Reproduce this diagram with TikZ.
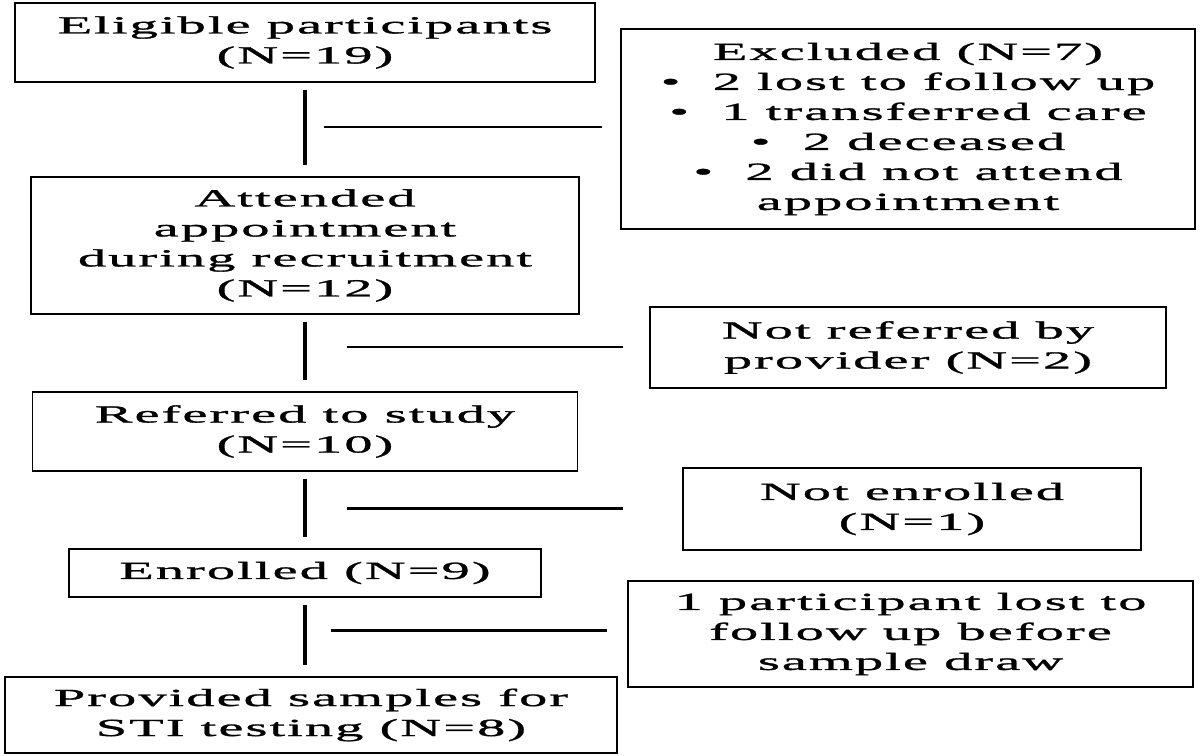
\documentclass[tikz,border=0pt]{standalone}
\usepackage{fontspec}
\setmainfont[FakeStretch=2.3,LetterSpace=8,FakeBold=1.2]{Liberation Serif}
\begin{document}
\begin{tikzpicture}[
    font=\fontsize{14pt}{17.07pt}\selectfont,
    flowbox/.style={
        draw,
        line width=1.1pt,
        align=center,
        inner sep=2pt
    },
    vline/.style={line width=2.6pt, shorten <=0.14cm, shorten >=0.22cm},
    hline/.style={line width=1.7pt}
]
\useasboundingbox (0,0) rectangle (24,-15.1);

% ---------------------------------------------------------------------------
% Main column
% ---------------------------------------------------------------------------
\node[flowbox, minimum width=11.6cm, minimum height=1.58cm] (elig) at (6.1,-0.85)
    {Eligible participants\\(N=19)};

\node[flowbox, minimum width=10.96cm, minimum height=2.74cm] (attend) at (6.1,-4.91)
    {Attended\\appointment\\during recruitment\\(N=12)};

\node[flowbox, minimum width=10.9cm, minimum height=1.58cm] (referred) at (6.1,-8.63)
    {Referred to study\\(N=10)};

\node[flowbox, minimum width=9.44cm, minimum height=0.96cm] (enrolled) at (6.1,-11.46)
    {Enrolled (N=9)};

\node[flowbox, minimum width=12.24cm, minimum height=1.52cm] (provided) at (6.22,-14.3)
    {Provided samples for\\STI testing (N=8)};

% ---------------------------------------------------------------------------
% Exclusions
% ---------------------------------------------------------------------------
\node[flowbox, minimum width=11.48cm, minimum height=4.0cm] (excl) at (18.16,-2.58)
    {Excluded (N=7)\\
    • ~2 lost to follow up\\
    • ~1 transferred care\\
    • ~2 deceased\\
    • ~2 did not attend\\
    appointment};

\node[flowbox, minimum width=10.32cm, minimum height=1.62cm] (notref) at (18.16,-6.95)
    {Not referred by\\provider (N=2)};

\node[flowbox, minimum width=9.16cm, minimum height=1.64cm] (notenr) at (18.24,-10.18)
    {Not enrolled\\(N=1)};

\node[flowbox, minimum width=11.3cm, minimum height=2.12cm] (lost) at (18.21,-12.68)
    {1 participant lost to\\follow up before\\sample draw};

% ---------------------------------------------------------------------------
% Lines -- main column
% ---------------------------------------------------------------------------
\draw[vline] (elig) -- (attend);
\draw[vline] (attend) -- (referred);
\draw[vline] (referred) -- (enrolled);
\draw[vline] (enrolled.south) -- (enrolled.south |- provided.north);

% ---------------------------------------------------------------------------
% Lines -- to exclusions
% ---------------------------------------------------------------------------
\coordinate (j1) at (6.48,-2.54);
\coordinate (j2) at (6.94,-6.94);
\coordinate (j3) at (6.94,-10.16);
\coordinate (j4) at (6.62,-12.6);

\draw[hline, shorten >=0.36cm] (j1) -- (j1 -| excl.west);
\draw[hline, shorten >=0.52cm] (j2) -- (j2 -| notref.west);
\draw[hline, shorten >=1.18cm] (j3) -- (j3 -| notenr.west);
\draw[hline, shorten >=0.4cm] (j4) -- (j4 -| lost.west);

\end{tikzpicture}
\end{document}
